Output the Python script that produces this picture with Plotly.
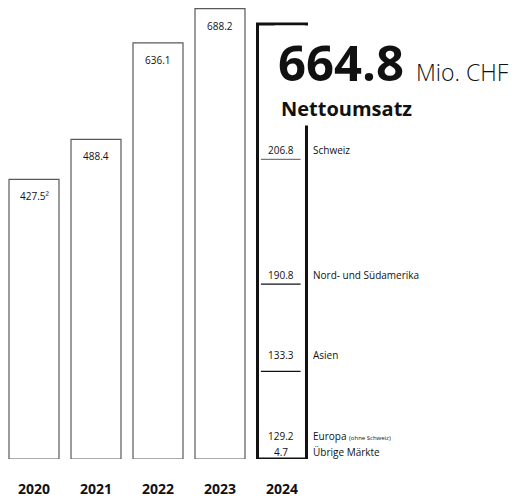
import plotly.graph_objects as go

# --- data -------------------------------------------------------------
years = ["2020", "2021", "2022", "2023", "2024"]
net_sales = [427.5, 488.4, 636.1, 688.2, 664.8]
bar_labels = ["427.5²", "488.4", "636.1", "688.2"]

regions = ["Schweiz", "Nord- und Südamerika", "Asien",
           "Europa <span style='font-size:6px'>(ohne Schweiz)</span>", "Übrige Märkte"]
region_values = [206.8, 190.8, 133.3, 129.2, 4.7]
region_labels = ["206.8", "190.8", "133.3", "129.2", "4.7"]

headline_value = "664.8"
headline_unit = "Mio. CHF"
headline_title = "Nettoumsatz"

# --- styling ----------------------------------------------------------
W, H = 516, 498
FONT = "Open Sans"
BASE_PX = 459            # pixel row of the zero line
PX_PER_UNIT = 0.6543
y_max = BASE_PX / PX_PER_UNIT
x_left = -34 / 62
x_right = x_left + W / 62

label_shift = [9, 9, 16, 20, 7]          # label offset above segment floor (px)
divider_color = ["#777777", "#111111", "#111111"]

fig = go.Figure()

# history bars (thin grey outline) and the current year (heavy outline)
fig.add_trace(go.Bar(
    x=years[:4], y=net_sales[:4], width=0.806,
    marker=dict(color="white", line=dict(color="#5a5a5a", width=1.2)),
    hoverinfo="skip",
))
fig.add_trace(go.Bar(
    x=years[4:], y=[sum(region_values)], width=0.79,
    marker=dict(color="white", line=dict(color="#111111", width=3)),
    hoverinfo="skip",
))

annotations = []
for i, (v, lab) in enumerate(zip(net_sales[:4], bar_labels)):
    annotations.append(dict(x=i, y=v, text=lab, showarrow=False,
                            yanchor="top", yshift=-8,
                            font=dict(family=FONT, size=10, color="#111")))

# regional breakdown inside the 2024 bar
cur = len(years) - 1
total = sum(region_values)
shapes = []
floor = total
for i, (name, v, lab) in enumerate(zip(regions, region_values, region_labels)):
    floor -= v
    if i < 3:
        shapes.append(dict(type="line", xref="x", yref="y",
                           x0=cur - 0.34, x1=cur + 0.3, y0=floor, y1=floor,
                           line=dict(color=divider_color[i], width=1.4)))
    annotations.append(dict(x=cur, y=floor, text=lab, showarrow=False,
                            yanchor="middle", yshift=label_shift[i], xshift=-1,
                            font=dict(family=FONT, size=10, color="#111")))
    annotations.append(dict(x=cur, y=floor, text=name, showarrow=False,
                            xanchor="left", xshift=29,
                            yanchor="middle", yshift=label_shift[i],
                            font=dict(family=FONT, size=10, color="#111")))

# headline
annotations.append(dict(
    xref="paper", yref="paper", x=274 / W, y=1 - 62 / H,
    xanchor="left", yanchor="middle", showarrow=False,
    bgcolor="white", borderpad=3,
    text=(f"<b>{headline_value}</b>"
          f"<span style='font-size:23px;font-weight:300'>  {headline_unit}</span>"),
    font=dict(family=FONT, size=49, color="#111"),
))
annotations.append(dict(
    xref="paper", yref="paper", x=277 / W, y=1 - 108 / H,
    xanchor="left", yanchor="middle", showarrow=False,
    bgcolor="white", borderpad=3,
    text=f"<b>{headline_title}</b>",
    font=dict(family=FONT, size=20, color="#111"),
))

fig.update_layout(
    width=W, height=H,
    margin=dict(l=0, r=0, t=0, b=0),
    paper_bgcolor="white", plot_bgcolor="white",
    showlegend=False,
    barmode="overlay",
    annotations=annotations,
    shapes=shapes,
)
fig.update_xaxes(type="category", range=[x_left, x_right],
                 showgrid=False, zeroline=False, showline=False,
                 ticks="", ticklabelstandoff=20,
                 tickfont=dict(family=FONT, size=14, color="#111", weight="bold"))
fig.update_yaxes(range=[0, y_max], domain=[(H - BASE_PX) / H, 1],
                 showgrid=False, zeroline=False, showline=False,
                 showticklabels=False)

fig.write_html("out.html")
